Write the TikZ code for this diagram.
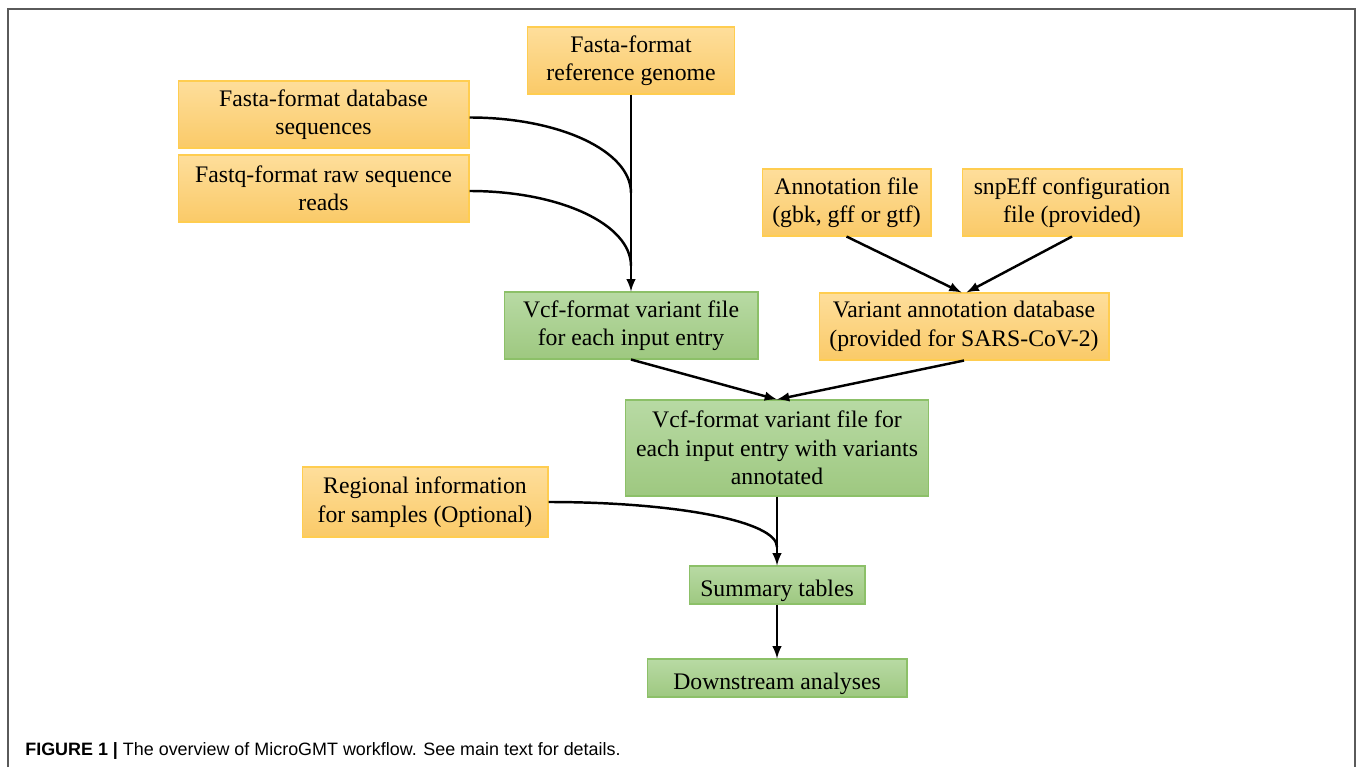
\documentclass[tikz,border=0pt]{standalone}
\usepackage{fontspec}
\setmainfont{Liberation Serif}
\setsansfont{Liberation Sans}
\usetikzlibrary{positioning}
\definecolor{orTop}{RGB}{254,222,155}
\definecolor{orBot}{RGB}{250,202,104}
\definecolor{orLine}{RGB}{255,205,80}
\definecolor{grTop}{RGB}{184,218,164}
\definecolor{grBot}{RGB}{158,200,128}
\definecolor{grLine}{RGB}{140,192,104}
\definecolor{frameGray}{RGB}{90,90,90}

\begin{document}
\begin{tikzpicture}[x=0.02cm,y=-0.02cm,>=latex]
	\tikzstyle{inbox}=[draw=orLine, line width=0.6pt, top color=orTop, bottom color=orBot, align=center, inner sep=0pt, font=\fontsize{13.5}{16.2}\selectfont, execute at begin node={\rule{0pt}{1.2em}}]
	\tikzstyle{outbox}=[draw=grLine, line width=0.6pt, top color=grTop, bottom color=grBot, align=center, inner sep=0pt, font=\fontsize{13.5}{16.2}\selectfont, execute at begin node={\rule{0pt}{1.2em}}]
	\tikzstyle{flow}=[line width=1.4pt]
	\useasboundingbox (0,0) rectangle (1358,767);
	\draw[frameGray, line width=1.2pt] (8,767) -- (8,9) -- (1355,9) -- (1355,767);
		\node[inbox, minimum width=4.14cm, minimum height=1.34cm] (ref_g) at (631,60.5) {Fasta-format\\reference genome};
		\node[inbox, minimum width=5.82cm, minimum height=1.34cm] (db_seq) at (323.5,114.5) {Fasta-format database\\sequences};
		\node[inbox, minimum width=5.82cm, minimum height=1.34cm] (raw_rd) at (323.5,188.5) {Fastq-format raw sequence\\reads};
		\node[inbox, minimum width=3.38cm, minimum height=1.34cm] (ann_f) at (846.5,202.5) {Annotation file\\(gbk, gff or gtf)};
		\node[inbox, minimum width=4.40cm, minimum height=1.34cm] (snp_cfg) at (1072,202.5) {snpEff configuration\\file (provided)};
		\node[outbox, minimum width=5.08cm, minimum height=1.34cm] (vcf_in) at (631,325.5) {Vcf-format variant file\\for each input entry};
		\node[inbox, minimum width=5.80cm, minimum height=1.34cm] (var_db) at (964,326.5) {Variant annotation database\\(provided for SARS-CoV-2)};
		\node[outbox, minimum width=6.06cm, minimum height=1.92cm] (vcf_ann) at (777,448) {Vcf-format variant file for\\each input entry with variants\\annotated};
		\node[inbox, minimum width=4.92cm, minimum height=1.40cm] (reg_inf) at (425,502) {Regional information\\for samples (Optional)};
		\node[outbox, minimum width=3.52cm, minimum height=0.76cm] (sum_tab) at (777,585) {Summary tables};
		\node[outbox, minimum width=5.20cm, minimum height=0.76cm] (down_an) at (777,678) {Downstream analyses};
		\coordinate (j1) at (631,193);
		\coordinate (j2) at (631,266);
		\coordinate (j3) at (777,547);
			\draw[flow, ->] (ref_g) -- (vcf_in);
			\draw[flow] ([yshift=-0.06cm]db_seq.east) .. controls +(90,0) and +(0,-42) .. (j1);
			\draw[flow] ([yshift=-0.05cm]raw_rd.east) .. controls +(90,0) and +(0,-42) .. (j2);
			\draw[flow, ->] (ann_f.south) -- ([xshift=-0.05cm]var_db.north);
			\draw[flow, ->] (snp_cfg.south) -- ([xshift=0.05cm]var_db.north);
			\draw[flow, ->] (vcf_in.south) -- (vcf_ann.north);
			\draw[flow, ->] (var_db.south) -- (vcf_ann.north);
			\draw[flow, ->] (vcf_ann) -- (sum_tab);
			\draw[flow] (reg_inf.east) .. controls +(126,0) and +(0,-26) .. (j3);
			\draw[flow, ->] (sum_tab) -- (down_an);
		\node[anchor=base west, inner sep=0pt, font=\sffamily\fontsize{10.2}{12}\selectfont] (caption) at (25,755) {\textbf{FIGURE 1 |} The overview of MicroGMT workflow. See main text for details.};
\end{tikzpicture}
\end{document}
